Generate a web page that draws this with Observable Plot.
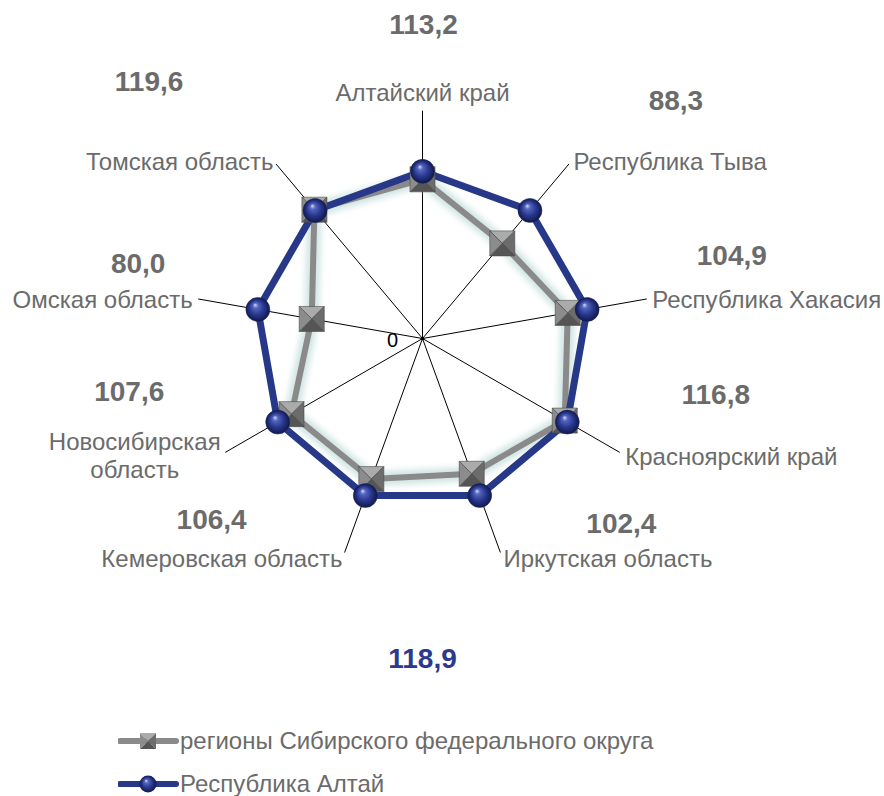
<!DOCTYPE html>
<html><head><meta charset="utf-8">
<script src="https://cdn.jsdelivr.net/npm/d3@7"></script>
<script src="https://cdn.jsdelivr.net/npm/@observablehq/plot@0.6"></script>
<style>
body{margin:0;background:#fff;font-family:"Liberation Sans",Arial,sans-serif;}
#chart svg{display:block}
.legend{padding-left:118px;margin-top:9px;}
.item{height:43px;display:flex;align-items:center;font-size:24px;color:#6b6b6b;}
.item svg{display:block;margin-right:0}
</style></head><body>
<div id="chart"></div>
<div class="legend" id="legend"></div>
<script>
// ---- data ----
const categories = ["Алтайский край","Республика Тыва","Республика Хакасия","Красноярский край","Иркутская область","Кемеровская область","Новосибирская\nобласть","Омская область","Томская область"];
const sfoValues = [113.2, 88.3, 104.9, 116.8, 102.4, 106.4, 107.6, 80.0, 119.6];
const altaiValues = [118.9, 118.9, 118.9, 118.9, 118.9, 118.9, 118.9, 118.9, 118.9];
const altaiValueLabel = "118,9";
const seriesNames = ["регионы Сибирского федерального округа", "Республика Алтай"];
const tickLabels = ["0"];
const axisMax = 162;

// ---- layout (pixel offsets, anchors) ----
const catLayout = [
  {dx:0, dy:-19, anchor:"middle"},
  {dx:4.5, dy:-3, anchor:"start"},
  {dx:5.5, dy:0, anchor:"start"},
  {dx:5.5, dy:4, anchor:"start"},
  {dx:3, dy:5, anchor:"start"},
  {dx:-2, dy:5, anchor:"end"},
  {dx:-90.5, dy:3, anchor:"middle"},
  {dx:-5.5, dy:0, anchor:"end"},
  {dx:-2.5, dy:-3, anchor:"end"}
];
const valLayout = [
  {dx:1, dy:-86},{dx:107, dy:-63},{dx:85, dy:-43},{dx:96, dy:-57},{dx:121, dy:-29},
  {dx:-133, dy:-33},{dx:-96, dy:-60},{dx:-60, dy:-35},{dx:-127, dy:-82}
];

const W = 884, H = 710, k = 1.406, cx = 422, cy = 338;
const n = categories.length;
const fmt = v => v.toFixed(1).replace(".", ",");
const pol = (v, i) => { const a = 2 * Math.PI * i / n; return {x: v * Math.sin(a), y: v * Math.cos(a)}; };

const spokes = categories.map((c, i) => ({x2: pol(axisMax, i).x, y2: pol(axisMax, i).y}));
const sfoPts = sfoValues.map((v, i) => ({...pol(v, i), v}));
const altPts = altaiValues.map((v, i) => ({...pol(v, i), v}));
const ends = categories.map((c, i) => ({...pol(axisMax, i), c, val: fmt(sfoValues[i])}));

function facet(pts) {
  return {draw(ctx, size) {
    const h = Math.sqrt(size) / 2;
    ctx.moveTo(pts[0][0]*h, pts[0][1]*h);
    ctx.lineTo(pts[1][0]*h, pts[1][1]*h);
    ctx.lineTo(0, 0);
    ctx.closePath();
  }};
}
const facets = [
  {sym: facet([[-1,-1],[1,-1]]), fill:"#ababab"},
  {sym: facet([[1,-1],[1,1]]), fill:"#6c6c6c"},
  {sym: facet([[1,1],[-1,1]]), fill:"#555555"},
  {sym: facet([[-1,1],[-1,-1]]), fill:"#8c8c8c"}
];
const sqR = 12.5 / Math.sqrt(Math.PI) * 2;

const font = "Liberation Sans, Arial, sans-serif";
const marks = [
  Plot.link(spokes, {x1: 0, y1: 0, x2: "x2", y2: "y2", stroke: "#000", strokeWidth: 1}),
  Plot.line(sfoPts, {x: "x", y: "y", curve: "linear-closed", stroke: "#cfe4e2", strokeWidth: 14}),
  Plot.line(sfoPts, {x: "x", y: "y", curve: "linear-closed", stroke: "#8a8a8a", strokeWidth: 6}),
  Plot.line(altPts, {x: "x", y: "y", curve: "linear-closed", stroke: "#283889", strokeWidth: 7}),
  ...facets.map(f => Plot.dot(sfoPts, {x: "x", y: "y", symbol: f.sym, r: sqR, fill: f.fill, stroke: "#4a4a4a", strokeWidth: 0.6})),
  Plot.dot(altPts, {x: "x", y: "y", r: 12, fill: "url(#sph)", stroke: "#1a2460", strokeWidth: 0.5}),
  Plot.dot([0], {x: () => 0, y: () => 0, r: 1.8, fill: "#000"}),
  Plot.text(tickLabels, {x: () => 0, y: () => 0, text: d => d, dx: -30, dy: 2, fontSize: 20, fill: "#000", fontFamily: font}),
  ...ends.map((e, i) => Plot.text([e], {x: "x", y: "y", text: "c", dx: catLayout[i].dx, dy: catLayout[i].dy, textAnchor: catLayout[i].anchor, lineHeight: 1.17, fontSize: 24, fill: "#6b6b6b", fontFamily: font})),
  ...ends.map((e, i) => Plot.text([e], {x: "x", y: "y", text: "val", dx: valLayout[i].dx, dy: valLayout[i].dy, fontSize: 28, fontWeight: "bold", fill: "#6b6b6b", fontFamily: font})),
  Plot.text([altaiValueLabel], {x: () => 0, y: () => 0, text: d => d, dy: 321, fontSize: 28, fontWeight: "bold", fill: "#2b3a8c", fontFamily: font})
];

const chart = Plot.plot({
  width: W, height: H, margin: 0,
  x: {domain: [-cx / k, (W - cx) / k], range: [0, W], axis: null},
  y: {domain: [-(H - cy) / k, cy / k], range: [H, 0], axis: null},
  style: {background: "#fff", fontFamily: font},
  marks
});
const svg = d3.select(chart);
const defs = svg.insert("defs", ":first-child");
const g = defs.append("radialGradient").attr("id", "sph").attr("cx", "50%").attr("cy", "50%").attr("r", "50%").attr("fx", "38%").attr("fy", "30%");
[["0%","#d6dcf7"],["22%","#5566bf"],["60%","#29388f"],["100%","#10184a"]].forEach(([o,c]) => g.append("stop").attr("offset", o).attr("stop-color", c));
defs.append("filter").attr("id", "glow").attr("x", "-20%").attr("y", "-20%").attr("width", "140%").attr("height", "140%")
  .append("feGaussianBlur").attr("stdDeviation", 3);
const lines = chart.querySelectorAll('g[aria-label="line"]');
if (lines[0]) lines[0].setAttribute("filter", "url(#glow)");
document.getElementById("chart").appendChild(chart);

// ---- legend ----
const leg = d3.select("#legend");
seriesNames.forEach((name, i) => {
  const it = leg.append("div").attr("class", "item");
  const s = it.append("svg").attr("width", 62).attr("height", 22);
  if (i === 0) {
    s.append("line").attr("x1", 2).attr("x2", 58).attr("y1", 11).attr("y2", 11).attr("stroke", "#8a8a8a").attr("stroke-width", 6).attr("stroke-linecap", "round");
    const h = 8, c = [30, 11];
    const f = [[[-1,-1],[1,-1],"#ababab"],[[1,-1],[1,1],"#6c6c6c"],[[1,1],[-1,1],"#555"],[[-1,1],[-1,-1],"#8c8c8c"]];
    f.forEach(([a, b, col]) => s.append("path").attr("d", `M${c[0]+a[0]*h},${c[1]+a[1]*h}L${c[0]+b[0]*h},${c[1]+b[1]*h}L${c[0]},${c[1]}Z`).attr("fill", col));
  } else {
    s.append("line").attr("x1", 2).attr("x2", 58).attr("y1", 11).attr("y2", 11).attr("stroke", "#283889").attr("stroke-width", 6).attr("stroke-linecap", "round");
    s.append("circle").attr("cx", 30).attr("cy", 11).attr("r", 8.5).attr("fill", "url(#sph)");
  }
  it.append("span").text(name);
});
</script>
</body></html>
